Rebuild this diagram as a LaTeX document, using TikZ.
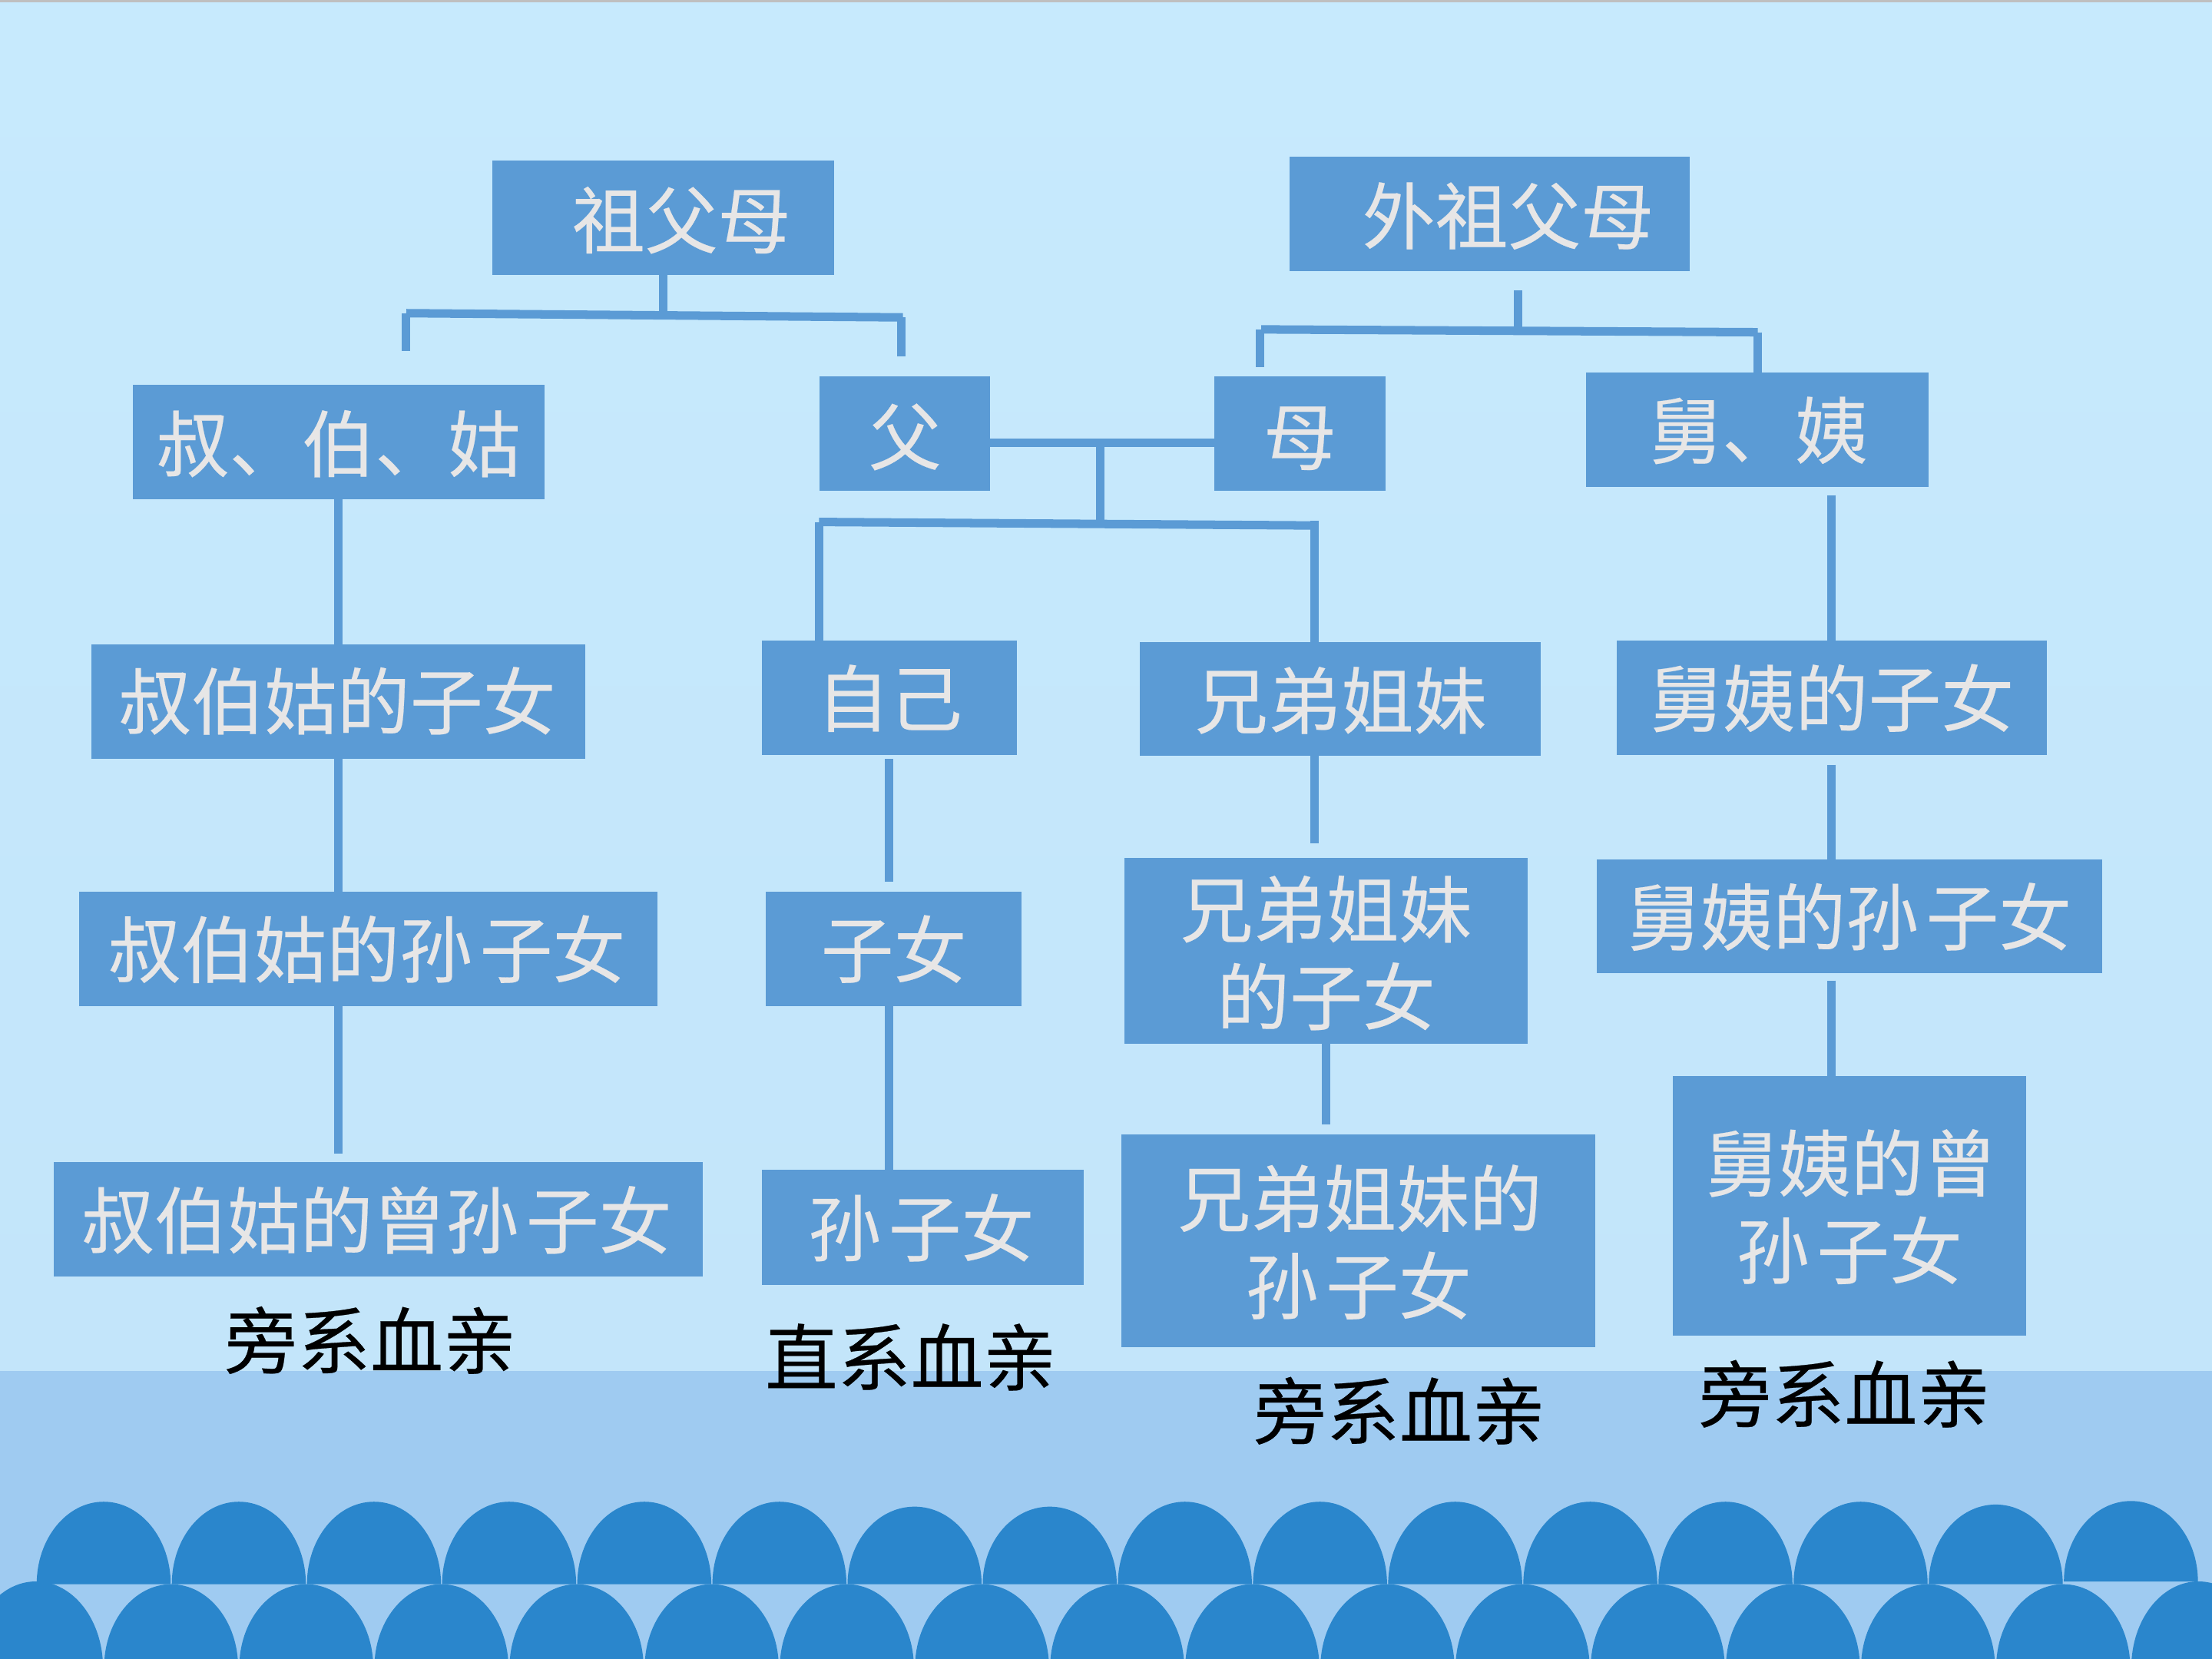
\documentclass[tikz,border=0pt]{standalone}
\usepackage{fontspec}
\setmainfont[FakeBold=0.25]{Noto Sans CJK SC}
\newlength\ux
\setlength\ux{0.018367cm}
\definecolor{skytop}{HTML}{C7EAFD}
\definecolor{skybot}{HTML}{C3E5FA}
\definecolor{band}{HTML}{9FCBF1}
\definecolor{scallop}{HTML}{2A86CC}
\definecolor{boxfill}{HTML}{5B9BD5}
\definecolor{boxtext}{HTML}{E7E6E6}
\definecolor{topedge}{HTML}{BFBFBF}
% One line of text, placed relative to the centre of its box
\newcommand\tl[3]{\makebox[0pt]{\hspace*{\dimexpr#1\ux*2\relax}\raisebox{\dimexpr-#2\ux-.38em\relax}[0pt][0pt]{#3}}}
% Wider gap after the character 孙
\newcommand\sunzi{孙\hspace{.1em}子女}
\tikzset{
  x=0.018367cm, y=-0.018367cm,
  famebox/.style 2 args={rectangle, fill=boxfill, text=boxtext, inner sep=0pt, outer sep=0pt,
    minimum width=#1\ux, minimum height=#2\ux, font=\fontsize{27pt}{32pt}\selectfont},
  kinlabel/.style={text=black, inner sep=0pt, font=\fontsize{27pt}{32pt}\selectfont},
  tie/.style={draw=boxfill, line width=6\ux},
}
\begin{document}
\begin{tikzpicture}
\useasboundingbox (0,0) rectangle (1568,1176);
% backdrop
\shade[top color=skytop, bottom color=skybot] (0,0) rectangle (1568,972);
\fill[topedge] (0,0) rectangle (1568,1.8);
\fill[band] (0,972) rectangle (1568,1176);
% two rows of scallops: index / base line / height
\begin{scope}
\clip (0,0) rectangle (1568,1176);
\foreach \k/\b/\h in {0/1123/58.5,1/1123/58.5,2/1123/58.5,3/1123/58.5,4/1123/58.5,5/1123/58.5,
    6/1123/55,7/1123/55,8/1123/58.5,9/1123/58.5,10/1123/58.5,11/1123/58.5,12/1123/58.5,13/1123/58.5,
    14/1123/56.5,15/1121/57}{
  \pgfmathsetmacro\cx{73.5+95.8*\k}
  \fill[scallop] (\cx-47.5,\b) arc[start angle=180, end angle=0, x radius=47.5, y radius=-\h] -- cycle;
}
\foreach \k/\h in {0/61,1/59,2/59,3/59,4/59,5/59,6/59,7/59,8/59,9/59,10/59,11/59,12/59,13/59,14/59,15/59,16/61}{
  \pgfmathsetmacro\cx{25.5+95.8*\k}
  \fill[scallop] (\cx-47.5,1182) arc[start angle=180, end angle=0, x radius=47.5, y radius=-\h] -- cycle;
}
\end{scope}
% boxes
\node[famebox={242}{81}] (zufu) at (470,154.5) {\tl{13}{1.5}{祖父母}};
\node[famebox={284}{81}] (waizu) at (1056,151.5) {\tl{13}{1.5}{外祖父母}};
\node[famebox={292}{81}] (shu) at (240,313.5) {\tl{0}{1}{叔、伯、姑}};
\node[famebox={121}{81}] (fu) at (641.5,307.5) {\tl{0}{2}{父}};
\node[famebox={121}{81}] (mu) at (921.5,307.5) {\tl{0}{2}{母}};
\node[famebox={243}{81}] (jiu) at (1245.5,304.5) {\tl{1}{0.5}{舅、姨}};
\node[famebox={350}{81}] (shuzn) at (240,497.5) {\tl{-1}{-0.5}{叔伯姑的子女}};
\node[famebox={181}{81}] (ziji) at (630.5,494.5) {\tl{0}{0.5}{自己}};
\node[famebox={284}{81}] (xd) at (950,495.5) {\tl{0.5}{1}{兄弟姐妹}};
\node[famebox={305}{81}] (jiuzn) at (1298.5,494.5) {\tl{0}{0.5}{舅姨的子女}};
\node[famebox={410}{81}] (shusun) at (261,672.5) {\tl{-1}{0.5}{叔伯姑的\sunzi}};
\node[famebox={181}{81}] (zinv) at (633.5,672.5) {\tl{0}{0.5}{子女}};
\node[famebox={286}{132}] (xdzn) at (940,674) {\tl{0}{-29.5}{兄弟姐妹}\tl{0}{32.5}{的子女}};
\node[famebox={358}{81}] (jiusun) at (1311,649.5) {\tl{0}{0.5}{舅姨的\sunzi}};
\node[famebox={460}{81}] (shuzeng) at (268,864.5) {\tl{-1}{0.5}{叔伯姑的曾\sunzi}};
\node[famebox={228}{82}] (sun) at (654,870) {\tl{-1}{0.5}{\sunzi}};
\node[famebox={336}{151}] (xdsun) at (963,879.5) {\tl{1}{-30}{兄弟姐妹的}\tl{0}{32}{\sunzi}};
\node[famebox={250}{184}] (jiuzeng) at (1311,855) {\tl{1}{-30.5}{舅姨的曾}\tl{0}{31.5}{\sunzi}};
% captions
\node[kinlabel] (capa) at (262.5,950) {旁系血亲};
\node[kinlabel] (capb) at (645.5,962) {直系血亲};
\node[kinlabel] (capc) at (992,1000) {旁系血亲};
\node[kinlabel] (capd) at (1307.5,988) {旁系血亲};
% paternal bracket
\coordinate (zl) at (288,222);
\coordinate (zr) at (640,225);
\coordinate (zs) at (470,223.5);
\coordinate (zle) at (288,249);
\coordinate (zre) at (639,252.5);
\draw[tie] (zufu.south -| zs) -- (zs);
\draw[tie] (zl) -- (zr);
\draw[tie] (zl) -- (zle);
\draw[tie] (zr -| zre) -- (zre);
% maternal bracket
\coordinate (wl) at (894,233.5);
\coordinate (wr) at (1246,235.5);
\coordinate (ws) at (1076,234.5);
\coordinate (wst) at (1076,206);
\coordinate (wle) at (893,260);
\draw[tie] (wst) -- (ws);
\draw[tie] (wl) -- (wr);
\draw[tie] (wl -| wle) -- (wle);
\draw[tie] (wr) -- (jiu.north -| wr);
% parents and their children
\coordinate (ps) at (780,313.7);
\coordinate (pb) at (780,371);
\coordinate (cl) at (580.6,370);
\coordinate (cr) at (932,372.5);
\coordinate (crt) at (932,369);
\draw[tie] (fu.east |- ps) -- (mu.west |- ps);
\draw[tie] (ps) -- (pb);
\draw[tie] (cl) -- (cr);
\draw[tie] (cl) -- (ziji.north -| cl);
\draw[tie] (crt) -- (xd.north -| crt);
% paternal side line
\draw[tie] (shu.south) -- (shuzn.north);
\draw[tie] (shuzn.south) -- (shuzn.south |- shusun.north);
\coordinate (shue) at (240,818);
\draw[tie] (shusun.south -| shue) -- (shue);
% direct line
\coordinate (zja) at (630,538);
\coordinate (zjb) at (630,625);
\draw[tie] (zja) -- (zjb);
\coordinate (zn) at (630,713);
\draw[tie] (zn) -- (sun.north -| zn);
% siblings
\coordinate (xa) at (932,536);
\coordinate (xb) at (932,598);
\draw[tie] (xd.south -| xa) -- (xb);
\coordinate (xc) at (940,797);
\draw[tie] (xdzn.south) -- (xc);
% maternal side line
\coordinate (ja) at (1298,351);
\draw[tie] (ja) -- (jiuzn.north -| ja);
\coordinate (jb) at (1298,542);
\draw[tie] (jb) -- (jiusun.north -| jb);
\coordinate (jc) at (1298,695);
\draw[tie] (jc) -- (jiuzeng.north -| jc);
\end{tikzpicture}
\end{document}
